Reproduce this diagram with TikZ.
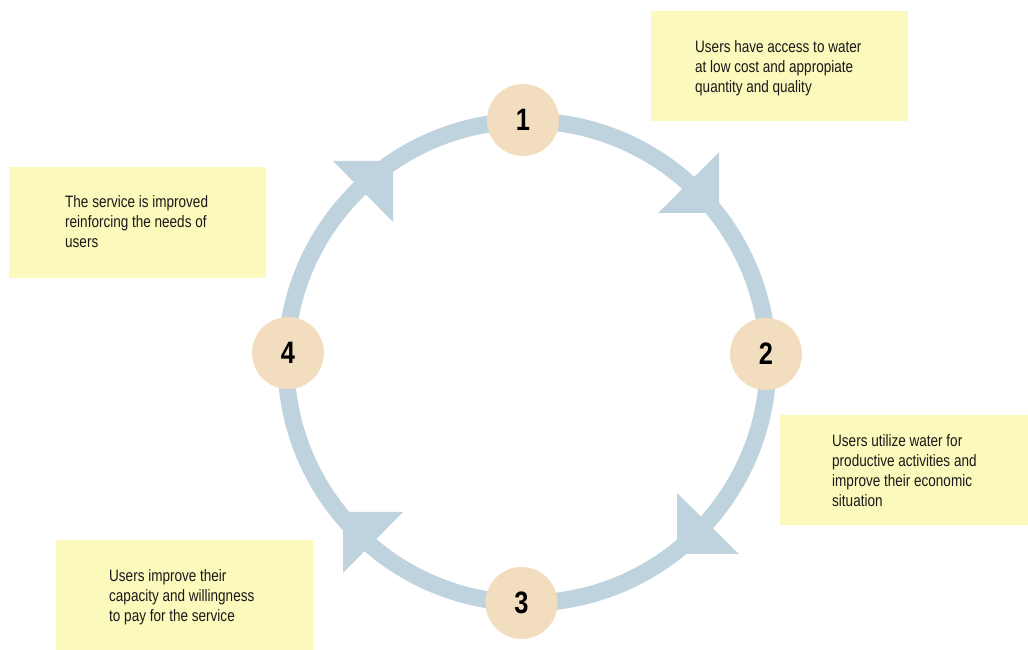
\documentclass[tikz,border=0pt]{standalone}
\usepackage{fontspec}
\setmainfont{Liberation Sans}[FakeStretch=0.82]
\usetikzlibrary{calc}
\definecolor{ringc}{RGB}{190,211,222}
\definecolor{nodec}{RGB}{242,222,190}
\definecolor{notec}{RGB}{251,249,187}
\tikzset{
  ring/.style={draw=ringc, line width=17pt},
  headfill/.style={fill=ringc},
  num/.style={circle, fill=nodec, minimum size=72pt, inner sep=0pt,
    font=\fontsize{31}{31}\selectfont\bfseries},
  notebox/.style={fill=notec, inner sep=0pt, anchor=south west},
  notetext/.style={inner sep=0pt, anchor=base west, align=left,
    font=\fontsize{16.5}{20}\selectfont, text=black!90}
}
\begin{document}
\begin{tikzpicture}[x=1pt,y=1pt]
\useasboundingbox (0,0) rectangle (1028,650);
% note boxes
\node[notebox, minimum width=257pt, minimum height=110pt] (b1) at (651,529) {};
\node[notebox, minimum width=257pt, minimum height=111pt] (b2) at (9,372) {};
\node[notebox, minimum width=248pt, minimum height=110pt] (b3) at (780,125) {};
\node[notebox, minimum width=257pt, minimum height=110pt] (b4) at (56,0) {};
% texts (anchored at the baseline of their last line)
\node[notetext] (t1) at (695,557) {Users have access to water\\at low cost and appropiate\\quantity and quality};
\node[notetext] (t2) at (65,402) {The service is improved\\reinforcing the needs of\\users};
\node[notetext] (t3) at (832,143) {Users utilize water for\\productive activities and\\improve their economic\\situation};
\node[notetext] (t4) at (109,28) {Users improve their\\capacity and willingness\\to pay for the service};
% ring
\coordinate (C) at (527,288);
\draw[ring] (C) circle[radius=241];
% arrowheads
\fill[headfill] (719,498) -- (658,437) -- (719,437) -- cycle;
\fill[headfill] (677,157) -- (739,96) -- (677,96) -- cycle;
\fill[headfill] (403,138) -- (343,77) -- (343,138) -- cycle;
\fill[headfill] (333,489) -- (393,428) -- (393,489) -- cycle;
% numbered nodes
\node[num] (n1) at (523,530) {1};
\node[num] (n2) at (766,296) {2};
\node[num] (n3) at (521.5,47) {3};
\node[num] (n4) at (288,297) {4};
\end{tikzpicture}
\end{document}
